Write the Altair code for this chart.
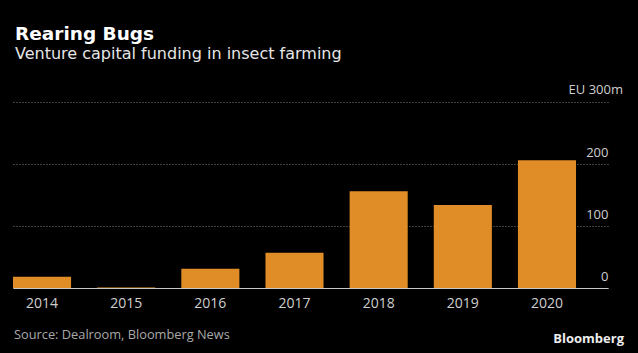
import altair as alt
import pandas as pd

years = ["2014", "2015", "2016", "2017", "2018", "2019", "2020"]
funding = [18, 1, 31, 57, 156, 134, 206]
y_ticks = [0, 100, 200, 300]
top_label = "EU 300m"

df = pd.DataFrame({"year": years, "funding": funding})
top_df = pd.DataFrame({"t": [top_label], "v": [y_ticks[-1]]})

FONT = "Open Sans"
TFONT = "DejaVu Sans"

bars = alt.Chart(df).mark_bar(color="#E08D28").encode(
    x=alt.X(
        "year:N",
        sort=years,
        scale=alt.Scale(paddingInner=0.31, paddingOuter=0.19, align=0),
        axis=alt.Axis(
            title=None, labelAngle=0, ticks=False, tickSize=0,
            domain=True, domainColor="#c8c8c8", domainWidth=1.2,
            labelColor="#cfcfcf", labelFontSize=14, labelFont=FONT,
            labelPadding=8, grid=False,
        ),
    ),
    y=alt.Y(
        "funding:Q",
        scale=alt.Scale(domain=[0, 300], nice=False),
        axis=alt.Axis(
            title=None, orient="right", values=y_ticks,
            ticks=False, tickSize=0, domain=False,
            labelAlign="right", labelBaseline="alphabetic", labelPadding=0,
            labelOffset=-8, labelColor="#cfcfcf", labelFontSize=13, labelFont=FONT,
            labelExpr="datum.value == 300 ? '' : datum.label",
            grid=True, gridColor="#808080", gridDash=[1, 2], gridWidth=1,
        ),
    ),
)

top_text = alt.Chart(top_df).mark_text(
    align="right", baseline="alphabetic", dy=-8, font=FONT, fontSize=13,
    color="#cfcfcf"
).encode(text="t:N", y=alt.Y("v:Q"), x=alt.value(610))

notes = pd.DataFrame({"t": ["Source: Dealroom, Bloomberg News"]})
source = alt.Chart(notes).mark_text(
    align="left", baseline="middle", font=FONT, fontSize=12.8, color="#a8a8a8"
).encode(text="t:N", x=alt.value(1), y=alt.value(233))

brand = pd.DataFrame({"t": ["Bloomberg"]})
logo = alt.Chart(brand).mark_text(
    align="right", baseline="middle", font=FONT, fontSize=13, fontWeight="bold",
    color="#eeeeee"
).encode(text="t:N", x=alt.value(611), y=alt.value(237))

chart = alt.layer(bars, top_text, source, logo).properties(
    width=595,
    height=186,
    autosize=alt.AutoSizeParams(type="none"),
    padding={"left": 13, "top": 102, "right": 30, "bottom": 65},
    title=alt.TitleParams(
        text="Rearing Bugs",
        subtitle="Venture capital funding in insect farming",
        anchor="start",
        frame="group",
        dx=2,
        offset=22,
        font=TFONT, fontSize=18.5, fontWeight="bold", color="#ffffff",
        subtitleFont=TFONT, subtitleFontSize=16, subtitleColor="#e6e6e6",
        subtitlePadding=3,
    ),
).configure(background="#000000").configure_view(stroke=None)

chart.save("out.html", embed_options={"renderer": "svg", "actions": False})
